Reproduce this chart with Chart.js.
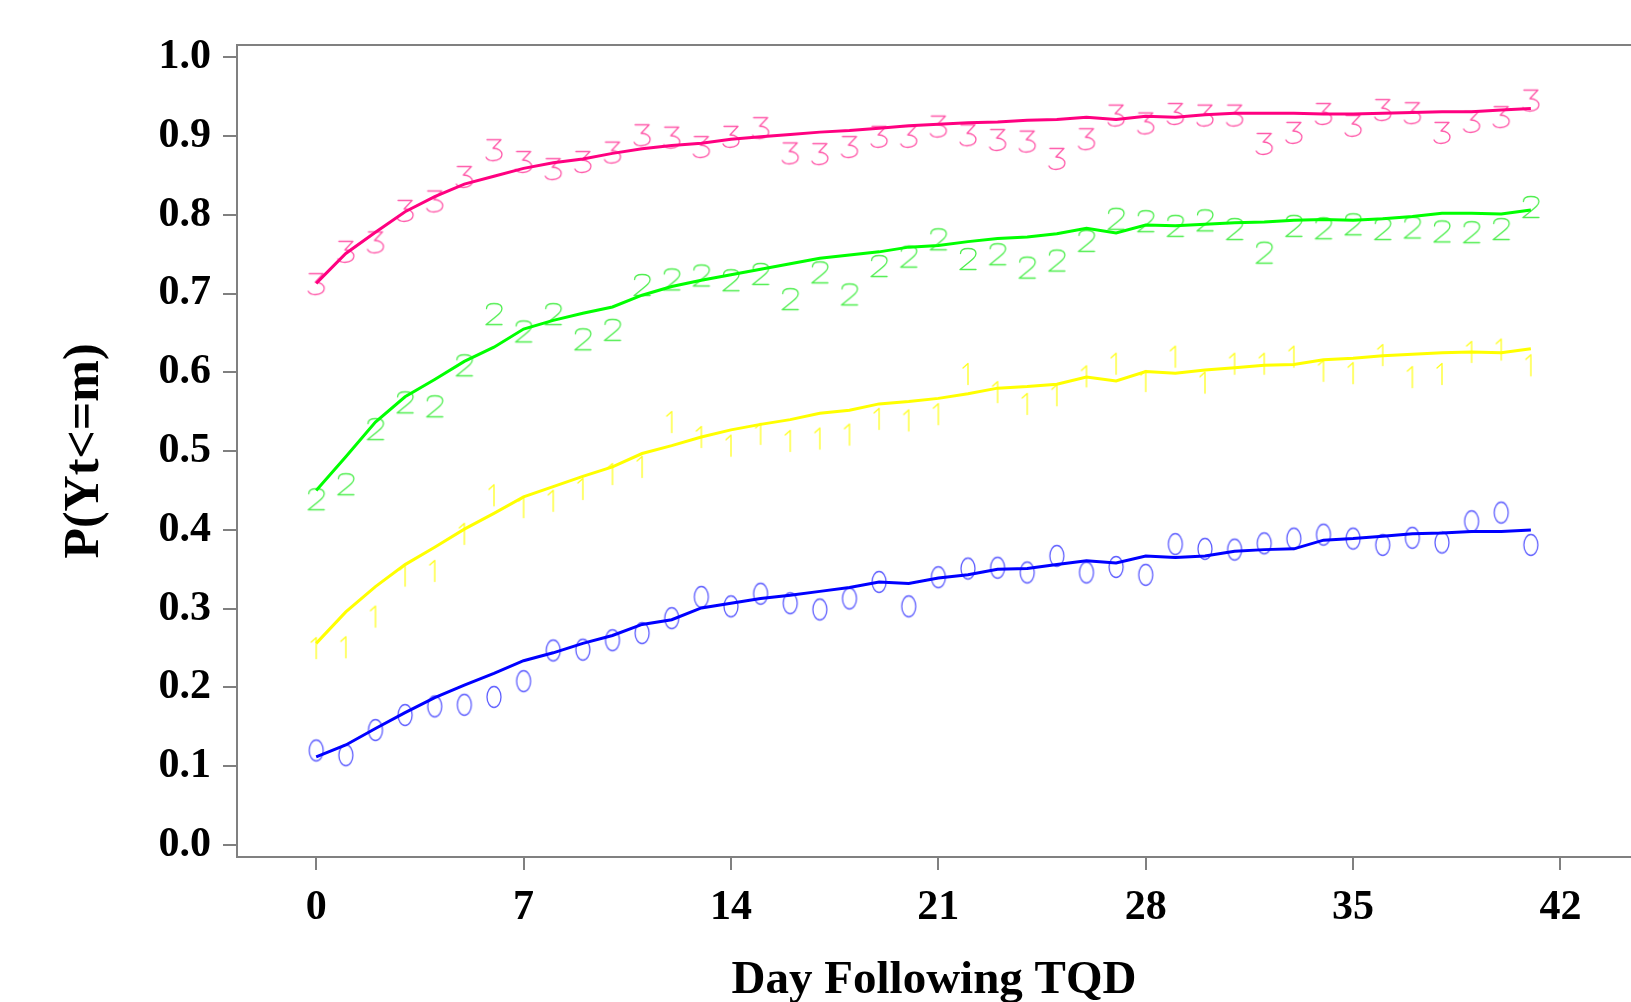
<!DOCTYPE html>
<html>
<head>
<meta charset="utf-8">
<title>P(Yt&lt;=m) by day following TQD</title>
<script src="https://cdn.jsdelivr.net/npm/chart.js@4.4.1/dist/chart.umd.min.js"></script>
<style>
  html, body { margin: 0; padding: 0; background: #fff; overflow: hidden; }
  canvas { display: block; }
</style>
</head>
<body>
<canvas id="probChart" width="1631" height="1002"></canvas>
<script>
// Cumulative probability P(Yt<=m) for m = 0..3, by day following TQD.
// Digits are the observed proportions, lines are the fitted values.

const days = [0, 1, 2, 3, 4, 5, 6, 7, 8, 9, 10, 11, 12, 13, 14, 15, 16, 17, 18, 19, 20,
    21, 22, 23, 24, 25, 26, 27, 28, 29, 30, 31, 32, 33, 34, 35, 36, 37, 38, 39, 40, 41];

// observed (symbols)
const obs0 = [0.120, 0.114, 0.146, 0.165, 0.176, 0.178, 0.188, 0.208, 0.247, 0.248, 0.260,
    0.269, 0.288, 0.315, 0.303, 0.319, 0.307, 0.299, 0.313, 0.334, 0.303, 0.340, 0.351,
    0.352, 0.346, 0.367, 0.346, 0.353, 0.343, 0.382, 0.376, 0.375, 0.383, 0.389, 0.394,
    0.389, 0.381, 0.390, 0.384, 0.411, 0.422, 0.381];
const obs1 = [0.250, 0.251, 0.290, 0.342, 0.348, 0.395, 0.444, 0.429, 0.437, 0.452, 0.471,
    0.480, 0.537, 0.518, 0.507, 0.522, 0.513, 0.516, 0.521, 0.541, 0.539, 0.547, 0.598,
    0.575, 0.560, 0.571, 0.595, 0.611, 0.589, 0.620, 0.587, 0.611, 0.611, 0.620, 0.602,
    0.599, 0.622, 0.594, 0.598, 0.626, 0.629, 0.609];
const obs2 = [0.439, 0.458, 0.528, 0.562, 0.557, 0.609, 0.674, 0.652, 0.674, 0.642, 0.654,
    0.711, 0.718, 0.723, 0.717, 0.725, 0.693, 0.727, 0.699, 0.735, 0.747, 0.769, 0.744,
    0.750, 0.733, 0.742, 0.767, 0.795, 0.792, 0.786, 0.793, 0.782, 0.752, 0.786, 0.783,
    0.788, 0.782, 0.784, 0.779, 0.778, 0.782, 0.810];
const obs3 = [0.712, 0.753, 0.765, 0.805, 0.817, 0.848, 0.882, 0.867, 0.858, 0.867, 0.879,
    0.901, 0.898, 0.886, 0.899, 0.910, 0.878, 0.877, 0.886, 0.899, 0.899, 0.912, 0.901,
    0.895, 0.893, 0.871, 0.896, 0.926, 0.916, 0.928, 0.926, 0.926, 0.890, 0.904, 0.928,
    0.913, 0.933, 0.929, 0.904, 0.918, 0.924, 0.945];

// fitted (lines)
const fit0 = [0.112, 0.127, 0.148, 0.168, 0.187, 0.203, 0.218, 0.234, 0.244, 0.256, 0.266,
    0.280, 0.286, 0.301, 0.307, 0.313, 0.317, 0.322, 0.327, 0.334, 0.332, 0.339, 0.343,
    0.350, 0.351, 0.356, 0.361, 0.358, 0.367, 0.365, 0.367, 0.373, 0.375, 0.376, 0.387,
    0.389, 0.392, 0.395, 0.396, 0.398, 0.398, 0.400];
const fit1 = [0.256, 0.296, 0.328, 0.356, 0.378, 0.401, 0.421, 0.442, 0.455, 0.468, 0.480,
    0.497, 0.507, 0.518, 0.527, 0.534, 0.540, 0.548, 0.552, 0.560, 0.563, 0.567, 0.573,
    0.580, 0.582, 0.585, 0.594, 0.589, 0.601, 0.599, 0.603, 0.606, 0.609, 0.610, 0.616,
    0.618, 0.621, 0.623, 0.625, 0.626, 0.625, 0.630];
const fit2 = [0.450, 0.493, 0.537, 0.569, 0.591, 0.614, 0.632, 0.655, 0.666, 0.675, 0.683,
    0.698, 0.709, 0.717, 0.724, 0.731, 0.738, 0.745, 0.749, 0.753, 0.759, 0.761, 0.766,
    0.770, 0.772, 0.776, 0.783, 0.777, 0.787, 0.786, 0.788, 0.790, 0.791, 0.793, 0.794,
    0.793, 0.795, 0.798, 0.802, 0.802, 0.801, 0.806];
const fit3 = [0.713, 0.751, 0.778, 0.804, 0.823, 0.839, 0.849, 0.859, 0.866, 0.871, 0.878,
    0.884, 0.888, 0.891, 0.896, 0.899, 0.902, 0.905, 0.907, 0.910, 0.913, 0.915, 0.917,
    0.918, 0.920, 0.921, 0.924, 0.921, 0.925, 0.924, 0.927, 0.929, 0.929, 0.929, 0.928,
    0.928, 0.929, 0.930, 0.931, 0.931, 0.933, 0.935];

const xTicks = [0, 7, 14, 21, 28, 35, 42];
const yTicks = [0.0, 0.1, 0.2, 0.3, 0.4, 0.5, 0.6, 0.7, 0.8, 0.9, 1.0];

const AXIS_GREY = '#808080';

// thin stroked digit used as the point symbol
function digitGlyph(ch, color) {
    const c = document.createElement('canvas');
    c.width = 24;
    c.height = 28;
    const g = c.getContext('2d');
    g.strokeStyle = color;
    g.lineWidth = 1.3;
    g.lineCap = 'round';
    g.lineJoin = 'round';
    const l = 4, r = 20, t = 3.5, b = 24.5, cx = 12;
    g.beginPath();
    if (ch === '0') {
        g.ellipse(cx, 14, 7, 10.5, 0, 0, Math.PI * 2);
    } else if (ch === '1') {
        g.moveTo(cx - 5, t + 4.5);
        g.lineTo(cx, t);
        g.lineTo(cx, b);
    } else if (ch === '2') {
        g.moveTo(l + 0.5, t + 5);
        g.bezierCurveTo(l + 0.5, t + 1, l + 4, t, cx, t);
        g.bezierCurveTo(r - 3, t, r, t + 1.5, r, t + 5);
        g.bezierCurveTo(r, t + 8.5, r - 3, t + 10.5, l, b);
        g.lineTo(r, b);
    } else {
        g.moveTo(l + 1, t);
        g.lineTo(r - 1, t);
        g.lineTo(cx - 1, t + 8.5);
        g.bezierCurveTo(r + 3, t + 8.5, r + 3, b, cx - 1, b);
        g.bezierCurveTo(l + 3, b, l + 1, b - 1.5, l, b - 3.5);
    }
    g.stroke();
    return c;
}

function xy(values) {
    return days.map((d, i) => ({ x: d, y: values[i] }));
}

function fitLine(values, color) {
    return {
        data: xy(values),
        borderColor: color,
        borderWidth: 3,
        pointRadius: 0,
        tension: 0,
        fill: false
    };
}

function symbols(values, ch, color) {
    return {
        data: xy(values),
        showLine: false,
        pointStyle: digitGlyph(ch, color),
        pointRadius: 5,
        pointHoverRadius: 5
    };
}

const topBorder = {
    id: 'topBorder',
    afterDraw(chart) {
        const { ctx, chartArea } = chart;
        ctx.save();
        ctx.strokeStyle = AXIS_GREY;
        ctx.lineWidth = 2;
        ctx.beginPath();
        ctx.moveTo(chartArea.left, chartArea.top);
        ctx.lineTo(chart.width, chartArea.top);
        ctx.stroke();
        ctx.restore();
    }
};

Chart.defaults.font.family = "'Liberation Serif', 'Times New Roman', serif";
Chart.defaults.font.weight = 'bold';
Chart.defaults.color = '#000';

const probChart = new Chart(document.getElementById('probChart'), {
    type: 'line',
    data: {
        datasets: [
            fitLine(fit3, '#ff0080'),
            fitLine(fit2, '#00ff00'),
            fitLine(fit1, '#ffff00'),
            fitLine(fit0, '#0000ff'),
            symbols(obs3, '3', '#ff5aaa'),
            symbols(obs2, '2', '#50ee50'),
            symbols(obs1, '1', '#ffff20'),
            symbols(obs0, '0', '#6060ff')
        ]
    },
    options: {
        responsive: false,
        animation: false,
        devicePixelRatio: 1,
        layout: { autoPadding: false, padding: { top: 45, left: 0, right: 0, bottom: 0 } },
        plugins: {
            legend: { display: false },
            tooltip: { enabled: false }
        },
        scales: {
            x: {
                type: 'linear',
                min: -2.673,
                max: 44.38,
                afterBuildTicks: s => { s.ticks = xTicks.map(v => ({ value: v })); },
                afterFit: s => { s.height = 145; },
                ticks: {
                    autoSkip: false,
                    maxRotation: 0,
                    padding: 13,
                    font: { size: 42, weight: 'bold' },
                    callback: v => String(v)
                },
                grid: { drawOnChartArea: false, drawTicks: true, tickLength: 13, color: AXIS_GREY, lineWidth: 2 },
                border: { display: true, color: AXIS_GREY, width: 2 },
                title: {
                    display: true,
                    text: 'Day Following TQD',
                    font: { size: 47, weight: 'bold', lineHeight: 1 },
                    padding: { top: 0, bottom: -2 }
                }
            },
            y: {
                min: -0.0152,
                max: 1.0156,
                afterBuildTicks: s => { s.ticks = yTicks.map(v => ({ value: v })); },
                afterFit: s => { s.width = 237; },
                ticks: {
                    autoSkip: false,
                    padding: 12,
                    font: { size: 42, weight: 'bold' },
                    callback: v => v.toFixed(1)
                },
                grid: { drawOnChartArea: false, drawTicks: true, tickLength: 14, color: AXIS_GREY, lineWidth: 2 },
                border: { display: true, color: AXIS_GREY, width: 2 },
                title: {
                    display: true,
                    text: 'P(Yt<=m)',
                    font: { size: 50, weight: 'bold' },
                    padding: { top: 55, bottom: 0 }
                }
            }
        }
    },
    plugins: [topBorder]
});
</script>
</body>
</html>
